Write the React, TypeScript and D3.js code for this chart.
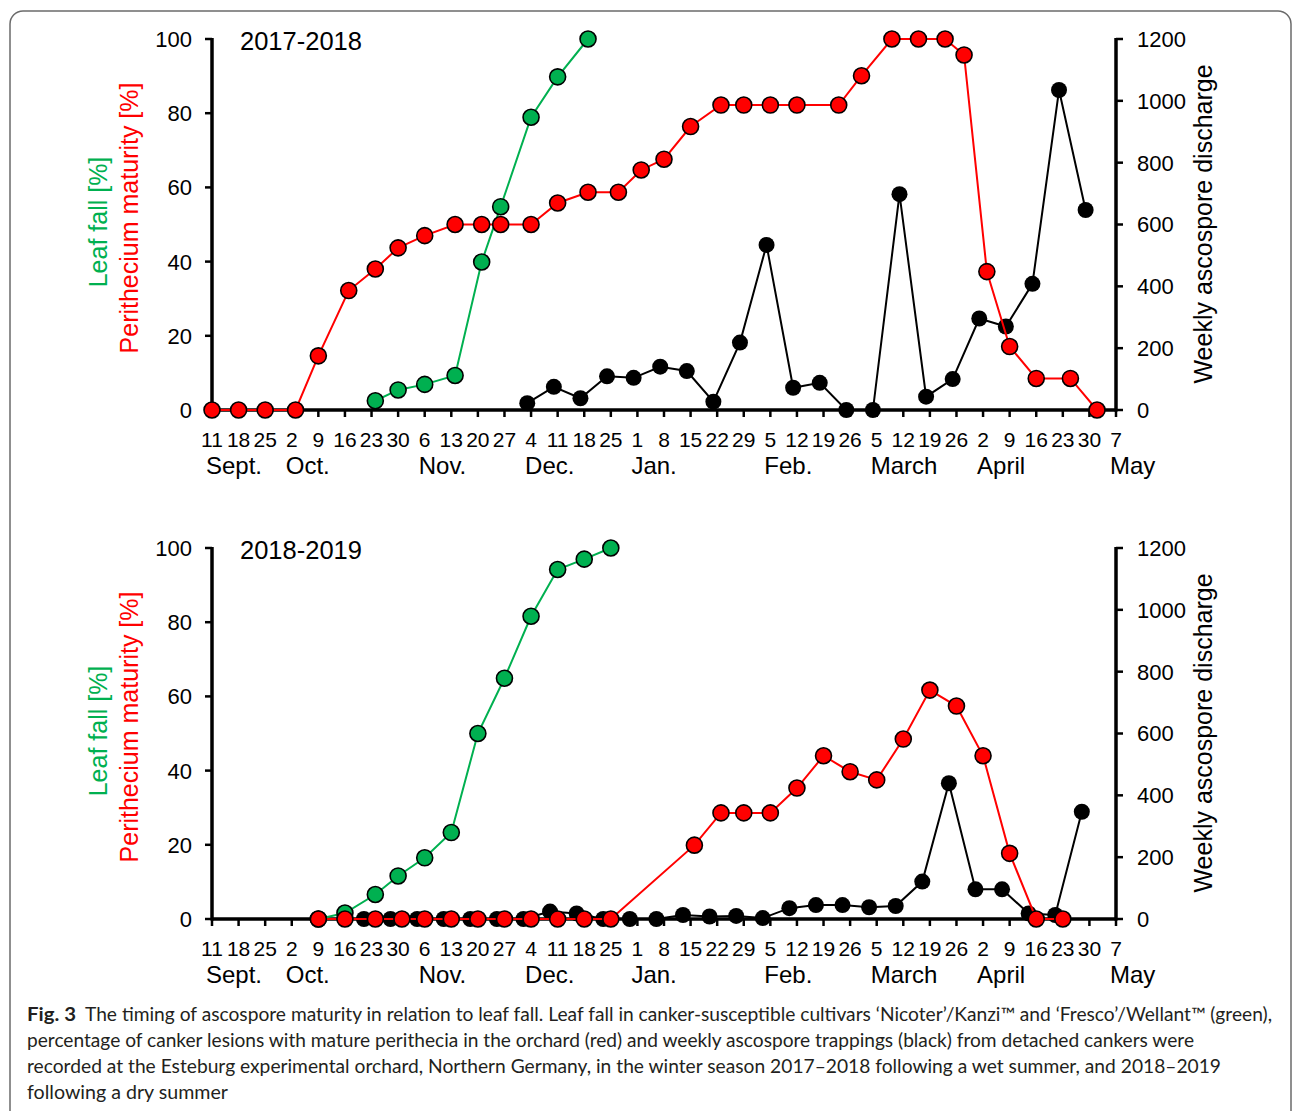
import { useEffect } from "react";
import * as d3 from "d3";

// week tick labels, Sept 11 .. May 7 (one per week)
const weekTicks = ["11", "18", "25", "2", "9", "16", "23", "30", "6", "13", "20", "27", "4", "11", "18", "25", "1", "8", "15", "22", "29", "5", "12", "19", "26", "5", "12", "19", "26", "2", "9", "16", "23", "30", "7"];
const monthLabels = ["Sept.", "Oct.", "Nov.", "Dec.", "Jan.", "Feb.", "March", "April", "May"];
const monthTickIndex = [0, 3, 8, 12, 16, 21, 25, 29, 34];
const leftTicks = [0, 20, 40, 60, 80, 100];
const rightTicks = [0, 200, 400, 600, 800, 1000, 1200];

// 2017-2018 (x = days after Sept 11)
const leafDays17 = [43, 49, 56, 64, 71, 76, 84, 91, 99];
const leafFall17 = [2.5, 5.4, 6.9, 9.3, 39.9, 54.8, 78.9, 89.8, 100];
const periDays17 = [0, 7, 14, 22, 28, 36, 43, 49, 56, 64, 71, 76, 84, 91, 99, 107, 113, 119, 126, 134, 140, 147, 154, 165, 171, 179, 186, 193, 198, 204, 210, 217, 226, 233];
const peri17 = [0, 0, 0, 0, 14.6, 32.2, 38, 43.7, 47, 50, 50, 50, 50, 55.8, 58.7, 58.7, 64.7, 67.6, 76.4, 82.2, 82.2, 82.2, 82.2, 82.2, 90.1, 100, 100, 100, 95.7, 37.3, 17.1, 8.5, 8.5, 0];
const sporeDays17 = [83, 90, 97, 104, 111, 118, 125, 132, 139, 146, 153, 160, 167, 174, 181, 188, 195, 202, 209, 216, 223, 230];
const spores17 = [22, 75, 38, 109, 104, 140, 126, 27, 218, 534, 72, 88, 0, 0, 698, 43, 100, 296, 270, 408, 1035, 647];

// 2018-2019
const leafDays18 = [28, 35, 43, 49, 56, 63, 70, 77, 84, 91, 98, 105];
const leafFall18 = [0, 1.6, 6.6, 11.6, 16.5, 23.3, 50, 64.9, 81.6, 94.2, 97, 100];
const periDays18 = [28, 35, 43, 50, 56, 63, 70, 77, 84, 91, 98, 105, 127, 134, 140, 147, 154, 161, 168, 175, 182, 189, 196, 203, 210, 217, 224];
const peri18 = [0, 0, 0, 0, 0, 0, 0, 0, 0, 0, 0, 0, 19.9, 28.6, 28.6, 28.6, 35.3, 44, 39.7, 37.5, 48.5, 61.7, 57.4, 44, 17.7, 0, 0];
const sporeDays18 = [40, 47, 54, 61, 68, 75, 82, 89, 96, 103, 110, 117, 124, 131, 138, 145, 152, 159, 166, 173, 180, 187, 194, 201, 208, 215, 222, 229];
const spores18 = [0, 0, 0, 0, 0, 0, 0, 24, 18, 0, 0, 0, 13, 8, 10, 3, 35, 45, 45, 38, 42, 121, 439, 96, 96, 18, 13, 347];

const captionLines = [
  "The timing of ascospore maturity in relation to leaf fall. Leaf fall in canker-susceptible cultivars \u2018Nicoter\u2019/Kanzi\u2122 and \u2018Fresco\u2019/Wellant\u2122 (green),",
  "percentage of canker lesions with mature perithecia in the orchard (red) and weekly ascospore trappings (black) from detached cankers were",
  "recorded at the Esteburg experimental orchard, Northern Germany, in the winter season 2017\u20132018 following a wet summer, and 2018\u20132019",
  "following a dry summer",
];

const GREEN = "#00b050";
const RED = "#ff0000";
const FONT = "'Liberation Sans', Arial, sans-serif";

type Pt = { d: number; v: number };
const zipPts = (days: number[], vals: number[]): Pt[] => days.map((d, i) => ({ d, v: vals[i] }));

function Panel({ title, top, leaf, peri, spores }: { title: string; top: number; leaf: Pt[]; peri: Pt[]; spores: Pt[] }) {
  const x = d3.scaleLinear().domain([0, 238]).range([212, 1116]);
  const yL = d3.scaleLinear().domain([0, 100]).range([top + 410, top + 39]);
  const yR = d3.scaleLinear().domain([0, 1200]).range([top + 410, top + 39]);
  const lineL = d3.line<Pt>().x((p) => x(p.d)).y((p) => yL(p.v));
  const lineR = d3.line<Pt>().x((p) => x(p.d)).y((p) => yR(p.v));
  const y0 = yL(0);
  const r = 8;

  return (
    <g fontFamily={FONT}>
      {/* axes */}
      <line x1={x(0)} x2={x(238)} y1={y0} y2={y0} stroke="#000" strokeWidth={3.5} />
      <line x1={x(0)} x2={x(0)} y1={yL(100) - 1} y2={y0 + 1.5} stroke="#000" strokeWidth={3.5} />
      <line x1={x(238)} x2={x(238)} y1={yR(1200) - 1} y2={y0 + 1.5} stroke="#000" strokeWidth={3.5} />
      {weekTicks.map((t, i) => (
        <g key={"w" + i}>
          <line x1={x(i * 7)} x2={x(i * 7)} y1={y0} y2={y0 + 7} stroke="#000" strokeWidth={2.5} />
          <text x={x(i * 7)} y={y0 + 37} fontSize={21} textAnchor="middle">{t}</text>
        </g>
      ))}
      {monthLabels.map((m, i) => (
        <text key={"m" + i} x={x(monthTickIndex[i] * 7) - 6} y={y0 + 64} fontSize={24}>{m}</text>
      ))}
      {leftTicks.map((t) => (
        <g key={"l" + t}>
          <line x1={x(0) - 7} x2={x(0)} y1={yL(t)} y2={yL(t)} stroke="#000" strokeWidth={2.5} />
          <text x={x(0) - 20} y={yL(t)} dy="0.36em" fontSize={22} textAnchor="end">{t}</text>
        </g>
      ))}
      {rightTicks.map((t) => (
        <g key={"r" + t}>
          <line x1={x(238)} x2={x(238) + 7} y1={yR(t)} y2={yR(t)} stroke="#000" strokeWidth={2.5} />
          <text x={x(238) + 21} y={yR(t)} dy="0.36em" fontSize={22}>{t}</text>
        </g>
      ))}
      <text x={240} y={top + 50} fontSize={25.5}>{title}</text>
      <text transform={`translate(107,${top + 222}) rotate(-90)`} fontSize={25} fill={GREEN} textAnchor="middle">Leaf fall [%]</text>
      <text transform={`translate(138,${top + 218}) rotate(-90)`} fontSize={25} fill={RED} textAnchor="middle">Perithecium maturity [%]</text>
      <text transform={`translate(1212,${top + 224}) rotate(-90)`} fontSize={25} textAnchor="middle">Weekly ascospore discharge</text>

      {/* ascospore discharge (black) */}
      <path d={lineR(spores) || ""} fill="none" stroke="#000" strokeWidth={2} />
      {spores.map((p, i) => (
        <circle key={"s" + i} cx={x(p.d)} cy={yR(p.v)} r={r} fill="#000" />
      ))}
      {/* leaf fall (green) */}
      <path d={lineL(leaf) || ""} fill="none" stroke={GREEN} strokeWidth={2} />
      {leaf.map((p, i) => (
        <circle key={"g" + i} cx={x(p.d)} cy={yL(p.v)} r={r} fill={GREEN} stroke="#000" strokeWidth={1.6} />
      ))}
      {/* perithecium maturity (red) */}
      <path d={lineL(peri) || ""} fill="none" stroke={RED} strokeWidth={2} />
      {peri.map((p, i) => (
        <circle key={"p" + i} cx={x(p.d)} cy={yL(p.v)} r={r} fill={RED} stroke="#000" strokeWidth={1.6} />
      ))}
    </g>
  );
}

export default function App() {
  useEffect(() => {
    document.body.style.margin = "0";
  }, []);

  const capFont = "Lato, 'Open Sans', sans-serif";
  const lineEnds = [1272, 1194, 1221, 228];

  return (
    <svg width={1293} height={1111} style={{ display: "block", background: "#fff" }}>
      <path d="M10,1125 V24 A13,13 0 0 1 23,11 H1278 A13,13 0 0 1 1291,24 V1125" fill="none" stroke="#6b6b6b" strokeWidth={1.5} />
      <Panel title="2017-2018" top={0} leaf={zipPts(leafDays17, leafFall17)} peri={zipPts(periDays17, peri17)} spores={zipPts(sporeDays17, spores17)} />
      <Panel title="2018-2019" top={509} leaf={zipPts(leafDays18, leafFall18)} peri={zipPts(periDays18, peri18)} spores={zipPts(sporeDays18, spores18)} />
      <g fontFamily={capFont} fill="#231f20">
        <text x={27} y={1021} fontSize={19} fontWeight="bold" textLength={49} lengthAdjust="spacingAndGlyphs">Fig. 3</text>
        {captionLines.map((ln, i) => {
          const x0 = i === 0 ? 85 : 27;
          return (
            <text key={"c" + i} x={x0} y={1021 + i * 26} fontSize={18.5} textLength={lineEnds[i] - x0} lengthAdjust="spacingAndGlyphs">{ln}</text>
          );
        })}
      </g>
    </svg>
  );
}
